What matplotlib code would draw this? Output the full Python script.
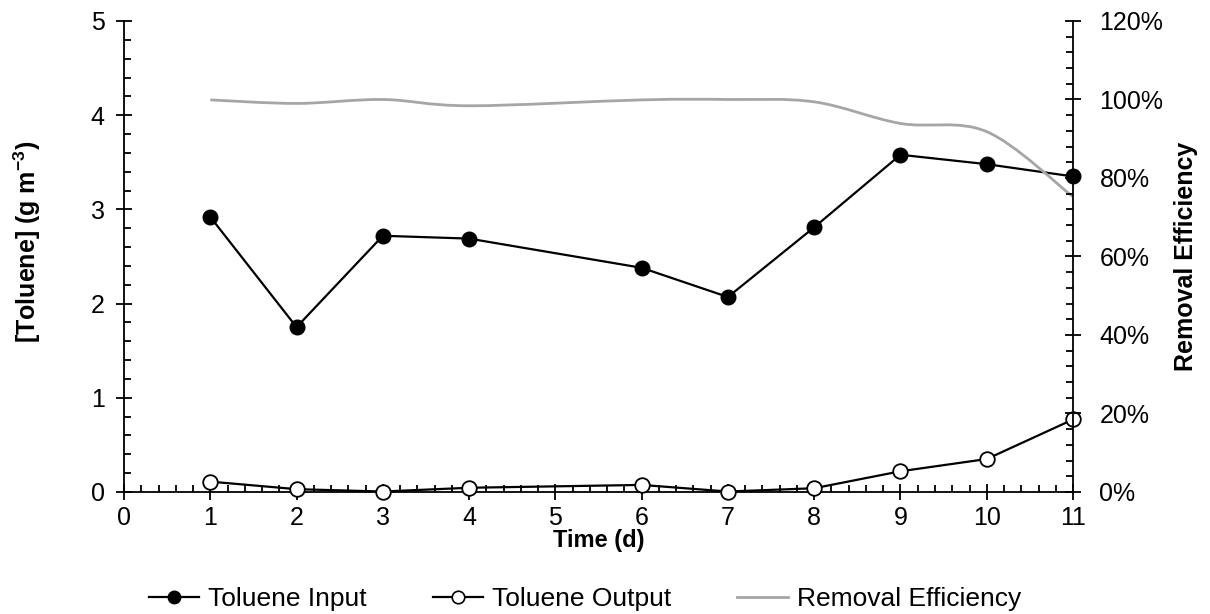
import numpy as np
import matplotlib
matplotlib.use('Agg')
import matplotlib.pyplot as plt
from matplotlib.path import Path
from matplotlib.patches import PathPatch
from matplotlib.lines import Line2D
from matplotlib.ticker import MultipleLocator, PercentFormatter

plt.rcParams['font.family'] = ['Liberation Sans', 'DejaVu Sans']
plt.rcParams['mathtext.fontset'] = 'custom'
plt.rcParams['mathtext.rm'] = 'Liberation Sans'
plt.rcParams['mathtext.bf'] = 'Liberation Sans:bold'

days = [1, 2, 3, 4, 6, 7, 8, 9, 10, 11]
toluene_in = [2.92, 1.75, 2.72, 2.69, 2.38, 2.07, 2.81, 3.58, 3.48, 3.35]
toluene_out = [0.11, 0.03, 0.005, 0.045, 0.075, 0.005, 0.04, 0.22, 0.35, 0.77]
removal = [0.999, 0.99, 1.0, 0.984, 0.999, 1.0, 0.994, 0.939, 0.918, 0.752]

TICK_FS = 18
LAB_FS = 18


def smooth_path(x, y):
    # Excel-style smoothed line: Bezier segments through the points
    x = np.asarray(x, float)
    y = np.asarray(y, float)
    pts = np.column_stack([x, y])
    verts = [pts[0]]
    codes = [Path.MOVETO]
    n = len(pts)
    for i in range(n - 1):
        p0 = pts[i - 1] if i > 0 else pts[i]
        p1 = pts[i]
        p2 = pts[i + 1]
        p3 = pts[i + 2] if i + 2 < n else pts[i + 1]
        c1 = p1 + (p2 - p0) / 6
        c2 = p2 - (p3 - p1) / 6
        verts += [c1, c2, p2]
        codes += [Path.CURVE4] * 3
    return Path(verts, codes)


fig = plt.figure(figsize=(12.1, 6.14), dpi=100)
ax = fig.add_axes([0.1025, 0.1987, 0.7843, 0.7671])
ax2 = ax.twinx()

ax.plot(days, toluene_in, color='black', lw=1.6, marker='o', ms=10.5,
        mfc='black', mec='black', zorder=3, clip_on=False)
ax.plot(days, toluene_out, color='black', lw=1.6, marker='o', ms=10.5,
        mfc='white', mec='black', mew=1.3, zorder=3, clip_on=False)
ax2.add_patch(PathPatch(smooth_path(days, removal), fill=False,
                        edgecolor='#a6a6a6', lw=2, clip_on=False))

ax.set_xlim(0, 11)
ax.set_ylim(0, 5)
ax2.set_ylim(0, 1.2)

ax.xaxis.set_major_locator(MultipleLocator(1))
ax.xaxis.set_minor_locator(MultipleLocator(0.2))
ax.yaxis.set_major_locator(MultipleLocator(1))
ax.yaxis.set_minor_locator(MultipleLocator(0.2))
ax2.yaxis.set_major_locator(MultipleLocator(0.2))
ax2.yaxis.set_minor_locator(MultipleLocator(0.04))
ax2.yaxis.set_major_formatter(PercentFormatter(1.0, decimals=0))

for a in (ax, ax2):
    a.spines['top'].set_visible(False)
    for s in a.spines.values():
        s.set_linewidth(1.3)
    a.tick_params(which='major', direction='inout', length=12, width=1.3,
                  labelsize=TICK_FS, pad=4)
    a.tick_params(which='minor', direction='in', length=5, width=1.3)
ax.tick_params(axis='y', which='major', pad=8)
ax2.tick_params(axis='y', which='major', pad=13)
ax.spines['right'].set_visible(False)
ax2.spines['left'].set_visible(False)
ax2.spines['bottom'].set_visible(False)

ax.set_xlabel('Time (d)', fontsize=17, fontweight='bold')
ax.xaxis.set_label_coords(0.5, -0.079)
ax.set_ylabel(r'[Toluene] (g m$^{\mathbf{-3}}$)', fontsize=LAB_FS,
              fontweight='bold')
ax.yaxis.set_label_coords(-0.085, 0.53)
ax2.set_ylabel('Removal Efficiency', fontsize=LAB_FS, fontweight='bold')
ax2.yaxis.set_label_coords(1.106, 0.5)

handles = [
    Line2D([], [], color='black', lw=1.6, marker='o', ms=9, mfc='black'),
    Line2D([], [], color='black', lw=1.6, marker='o', ms=9, mfc='white',
           mew=1.2),
    Line2D([], [], color='#a6a6a6', lw=2),
]
fig.legend(handles, ['Toluene Input', 'Toluene Output', 'Removal Efficiency'],
           loc='center', bbox_to_anchor=(585 / 1210, 1 - 599 / 614), ncol=3,
           frameon=False, fontsize=19, handlelength=1.9,
           handletextpad=0.35, columnspacing=2.5, borderpad=0)

fig.savefig('out.png', dpi=100)
